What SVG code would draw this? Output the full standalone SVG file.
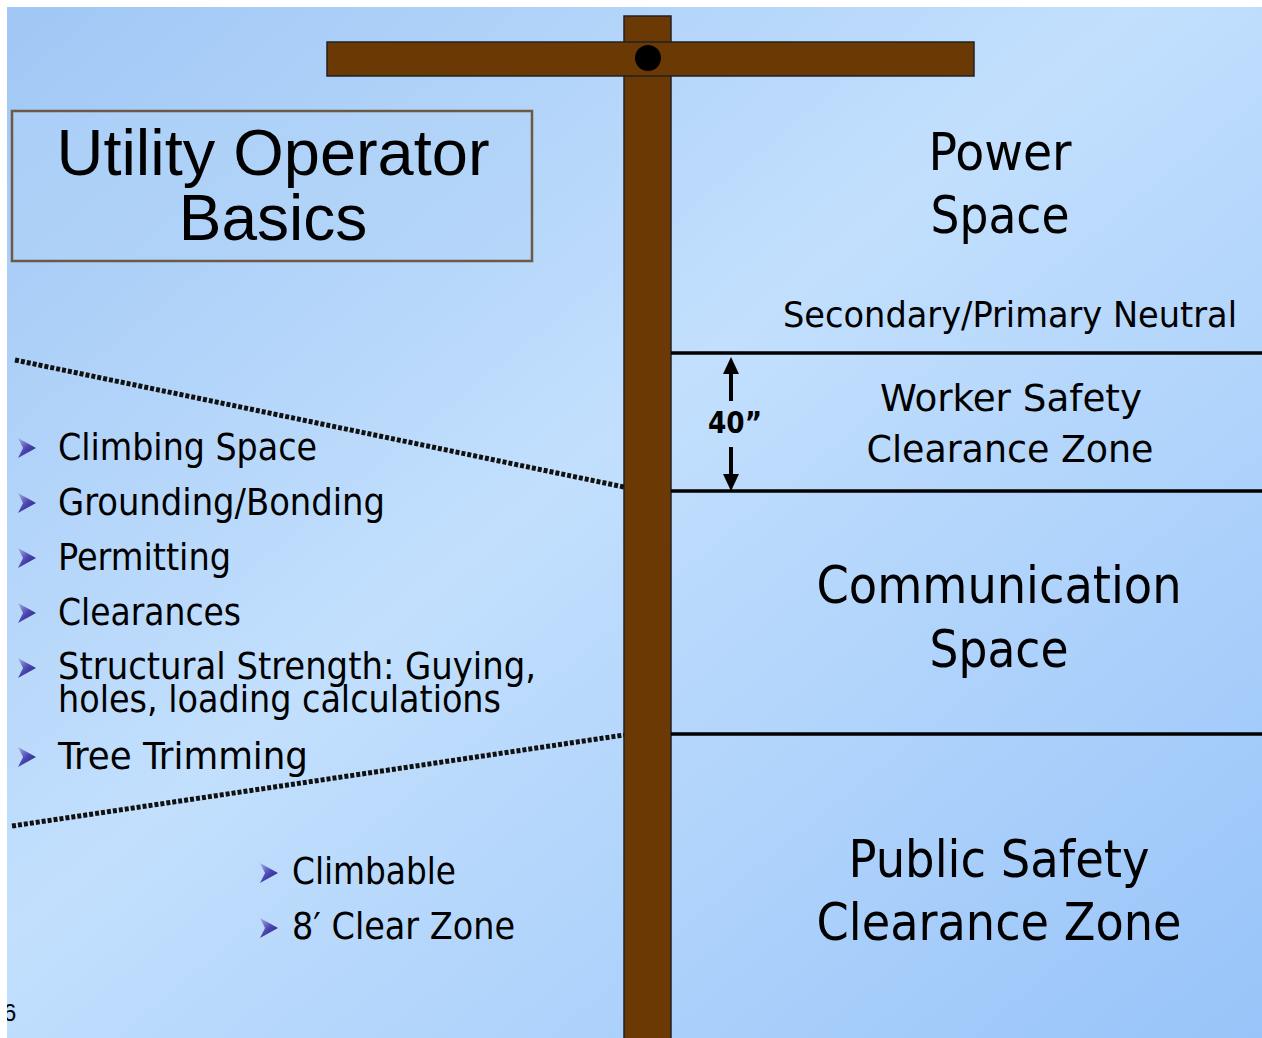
<svg xmlns="http://www.w3.org/2000/svg" width="1262" height="1038" viewBox="0 0 1262 1038">
<defs>
<linearGradient id="bg" x1="0" y1="0" x2="1" y2="1">
<stop offset="0" stop-color="#a0c7f5"/>
<stop offset="0.45" stop-color="#c2dffd"/>
<stop offset="1" stop-color="#98c4f9"/>
</linearGradient>
<linearGradient id="bul" x1="0" y1="0" x2="1" y2="1">
<stop offset="0" stop-color="#a9b4e6"/>
<stop offset="0.5" stop-color="#4a44b0"/>
<stop offset="1" stop-color="#231f7e"/>
</linearGradient>
<clipPath id="page"><rect x="7" y="7" width="1255" height="1031"/></clipPath>
<polygon id="b" points="0,-10 18,0 0,10 5,0" fill="url(#bul)"/>
</defs>
<style>
.t{font-family:"DejaVu Sans Condensed","DejaVu Sans",sans-serif;fill:#000}
.big{font-size:52px;text-anchor:middle}
.mid{font-size:38px;text-anchor:middle}
.li{font-size:38px}
.sep{stroke:#000;stroke-width:3.5}
.dot{stroke:#111;stroke-width:5;stroke-dasharray:4 2;fill:none}
</style>
<rect width="1262" height="1038" fill="#fff"/>
<rect x="7" y="7" width="1255" height="1031" fill="url(#bg)"/>
<text x="3" y="1021" style="font-family:'Liberation Sans',sans-serif;font-size:24px" clip-path="url(#page)">6</text>

<g id="title">
<rect x="12" y="111" width="520" height="150" fill="#b2d4f8" fill-opacity="0.5" stroke="#6e5a44" stroke-width="2.5"/>
<text x="273" y="175" text-anchor="middle" style="font-family:'Liberation Sans',Arial,sans-serif;font-size:64px" textLength="433" lengthAdjust="spacingAndGlyphs">Utility Operator</text>
<text x="273" y="240" text-anchor="middle" style="font-family:'Liberation Sans',Arial,sans-serif;font-size:64px">Basics</text>
</g>

<g id="pole">
<rect x="624" y="16" width="47" height="1030" fill="#6b3a04" stroke="#222" stroke-width="1.5"/>
<rect x="327" y="42" width="647" height="34" fill="#6b3a04" stroke="#222" stroke-width="1.5"/>
<circle cx="648" cy="58" r="13" fill="#000"/>
</g>

<g id="connectors">
<line class="sep" x1="671" y1="353" x2="1262" y2="353"/>
<line class="sep" x1="671" y1="491" x2="1262" y2="491"/>
<line class="sep" x1="671" y1="734" x2="1262" y2="734"/>
<path class="dot" d="M15,360 L624,487"/>
<path class="dot" d="M12,826 L624,735"/>
<line x1="731" y1="372" x2="731" y2="401" stroke="#000" stroke-width="4"/>
<polygon points="731,357 723,374 739,374" fill="#000"/>
<line x1="731" y1="447" x2="731" y2="476" stroke="#000" stroke-width="4"/>
<polygon points="731,491 723,474 739,474" fill="#000"/>
</g>

<g id="power-space">
<text class="t big" x="1000" y="170" textLength="143" lengthAdjust="spacingAndGlyphs">Power</text>
<text class="t big" x="1000" y="233" textLength="139" lengthAdjust="spacingAndGlyphs">Space</text>
<text class="t" x="1010" y="327" style="font-size:36px;text-anchor:middle" textLength="454" lengthAdjust="spacingAndGlyphs">Secondary/Primary Neutral</text>
</g>

<g id="worker-zone">
<text class="t mid" x="1011" y="411" textLength="262" lengthAdjust="spacingAndGlyphs">Worker Safety</text>
<text class="t mid" x="1010" y="462" textLength="287" lengthAdjust="spacingAndGlyphs">Clearance Zone</text>
<text class="t" x="735" y="433" style="font-size:30px;font-weight:bold;text-anchor:middle" textLength="54" lengthAdjust="spacingAndGlyphs">40”</text>
</g>

<g id="comm-space">
<text class="t big" x="999" y="603" textLength="365" lengthAdjust="spacingAndGlyphs">Communication</text>
<text class="t big" x="999" y="667" textLength="139" lengthAdjust="spacingAndGlyphs">Space</text>
</g>

<g id="public-zone">
<text class="t big" x="999" y="877" textLength="301" lengthAdjust="spacingAndGlyphs">Public Safety</text>
<text class="t big" x="999" y="940" textLength="365" lengthAdjust="spacingAndGlyphs">Clearance Zone</text>
</g>

<g id="climbing-list">
<use href="#b" x="18" y="448"/>
<text class="t li" x="58" y="460" textLength="259" lengthAdjust="spacingAndGlyphs">Climbing Space</text>
<use href="#b" x="18" y="503"/>
<text class="t li" x="58" y="515" textLength="327" lengthAdjust="spacingAndGlyphs">Grounding/Bonding</text>
<use href="#b" x="18" y="558"/>
<text class="t li" x="58" y="570" textLength="173" lengthAdjust="spacingAndGlyphs">Permitting</text>
<use href="#b" x="18" y="613"/>
<text class="t li" x="58" y="625" textLength="183" lengthAdjust="spacingAndGlyphs">Clearances</text>
<use href="#b" x="18" y="668"/>
<text class="t li" x="58" y="679" textLength="478" lengthAdjust="spacingAndGlyphs">Structural Strength: Guying,</text>
<text class="t li" x="58" y="712" textLength="443" lengthAdjust="spacingAndGlyphs">holes, loading calculations</text>
<use href="#b" x="18" y="757"/>
<text class="t li" x="58" y="769" textLength="250" lengthAdjust="spacingAndGlyphs">Tree Trimming</text>
</g>

<g id="public-list">
<use href="#b" x="260" y="873"/>
<text class="t li" x="292" y="884" textLength="164" lengthAdjust="spacingAndGlyphs">Climbable</text>
<use href="#b" x="260" y="928"/>
<text class="t li" x="292" y="939" textLength="223" lengthAdjust="spacingAndGlyphs">8′ Clear Zone</text>
</g>
</svg>
